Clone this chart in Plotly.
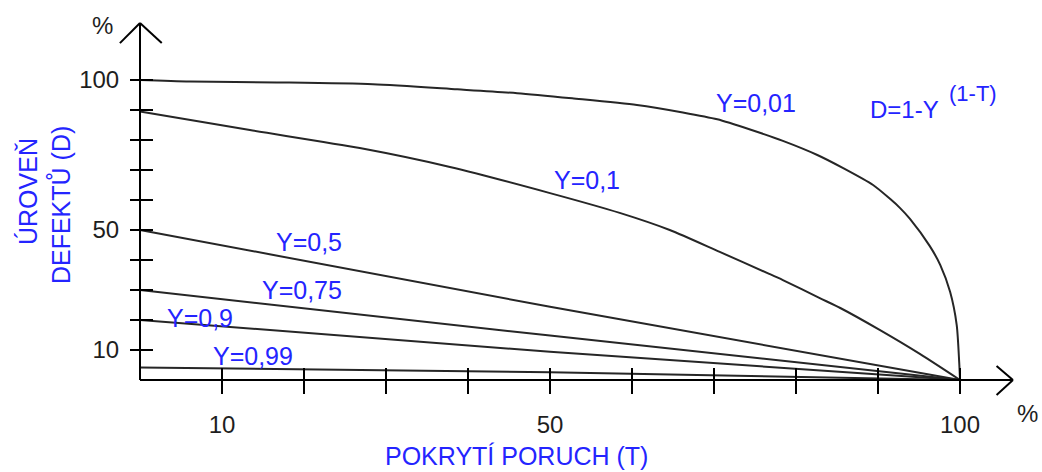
import plotly.graph_objects as go

# ---------------- data ----------------
# T = fault coverage [%], D = defect level [%]
T_Y001 = [0, 6.1, 16.7, 28.4, 38.7, 46.0, 52.7, 60.6, 66.2, 70.4, 74.4, 78.4,
          82.6, 85.7, 89.4, 91.5, 92.7, 93.9, 96.3, 97.6, 98.8, 99.6, 99.9, 100]
D_Y001 = [100, 99.5, 99.2, 98.6, 96.9, 95.6, 93.9, 91.7, 89.2, 86.9, 83.5, 79.7,
          75.0, 70.7, 65.0, 60.3, 57.3, 53.7, 44.7, 38.3, 29.3, 18.3, 6.0, 0]

T_Y01 = [0, 13.4, 26.8, 37.8, 50.0, 58.5, 64.6, 70.7, 76.8, 78.4, 82.9, 85.4, 90.2, 95.1, 100]
D_Y01 = [89.5, 83.3, 77.3, 71.0, 62.3, 55.7, 50.0, 42.7, 35.3, 33.3, 27.3, 24.0, 16.7, 8.7, 0]

T_LIN = [0, 50, 100]
D_Y05 = [50, 24.4, 0]
D_Y075 = [30, 14.8, 0]
D_Y09 = [20, 9.4, 0]
D_Y099 = [4.2, 2.6, 0]

SERIES_T = [T_Y001, T_Y01, T_LIN, T_LIN, T_LIN, T_LIN]
SERIES_D = [D_Y001, D_Y01, D_Y05, D_Y075, D_Y09, D_Y099]
SERIES_SHAPE = ["spline", "spline", "linear", "linear", "linear", "linear"]

LABELS = ["Y=0,01", "Y=0,1", "Y=0,5", "Y=0,75", "Y=0,9", "Y=0,99"]
LABEL_T = [75.1, 54.5, 20.6, 19.8, 7.3, 13.8]
LABEL_D = [92.3, 66.7, 46.0, 30.0, 20.7, 8.0]

TICK_VALS = [10, 20, 30, 40, 50, 60, 70, 80, 90, 100]
X_TICKTEXT = ["10", "", "", "", "50", "", "", "", "", "100"]
Y_TICKTEXT = ["10", "", "", "", "50", "", "", "", "", "100"]

X_TITLE = "POKRYTÍ PORUCH (T)"
Y_TITLE_1 = "ÚROVEŇ"
Y_TITLE_2 = "DEFEKTŮ (D)"
FORMULA_MAIN = "D=1-Y"
FORMULA_EXP = "(1-T)"

# ---------------- layout / scale ----------------
W, H = 1042, 472
ORIGIN_PX_X, ORIGIN_PX_Y = 140, 380
PX_PER_T, PX_PER_D = 8.2, 3.0
XMIN = -ORIGIN_PX_X / PX_PER_T
XMAX = (W - ORIGIN_PX_X) / PX_PER_T
YMAX = ORIGIN_PX_Y / PX_PER_D
YMIN = -(H - ORIGIN_PX_Y) / PX_PER_D

X_END = 106.46   # arrow tip of T axis
Y_END = 119.0    # arrow tip of D axis

LINE_COLOR = "#262626"
BLUE = "#2424ff"
TXT = "#1e1e1e"
FONT = "Liberation Sans, Arial, sans-serif"

fig = go.Figure()
for t, d, shp in zip(SERIES_T, SERIES_D, SERIES_SHAPE):
    fig.add_trace(go.Scatter(x=t, y=d, mode="lines",
                             line=dict(color=LINE_COLOR, width=2, shape=shp,
                                       smoothing=0.7 if shp == "spline" else None),
                             hoverinfo="skip", showlegend=False))
# dummy trace to create the overlay axes (crossing ticks)
fig.add_trace(go.Scatter(x=[None], y=[None], xaxis="x2", yaxis="y2",
                         showlegend=False, hoverinfo="skip"))

xpos = (0 - YMIN) / (YMAX - YMIN)
ypos = (0 - XMIN) / (XMAX - XMIN)

common = dict(showgrid=False, zeroline=False, showline=False,
              tickmode="array", tickvals=TICK_VALS, tickwidth=2,
              tickcolor="black", fixedrange=True)

fig.update_layout(
    width=W, height=H,
    margin=dict(l=0, r=0, t=0, b=0, pad=0),
    paper_bgcolor="white", plot_bgcolor="white",
    showlegend=False,
    xaxis=dict(range=[XMIN, XMAX], anchor="free", position=xpos,
               ticks="outside", ticklen=13, ticktext=X_TICKTEXT,
               tickfont=dict(family=FONT, size=24, color=TXT),
               ticklabelstandoff=10, **common),
    yaxis=dict(range=[YMIN, YMAX], anchor="free", position=ypos,
               ticks="outside", ticklen=10, ticktext=Y_TICKTEXT,
               tickfont=dict(family=FONT, size=24, color=TXT),
               ticklabelstandoff=6, **common),
    xaxis2=dict(range=[XMIN, XMAX], overlaying="x", anchor="free", position=xpos,
                ticks="inside", ticklen=12, showticklabels=False, **common),
    yaxis2=dict(range=[YMIN, YMAX], overlaying="y", anchor="free", position=ypos,
                ticks="inside", ticklen=12, showticklabels=False, **common),
)

# axes lines with open arrowheads
ax_line = dict(color="black", width=2)
shapes = [
    dict(type="line", x0=0, y0=0, x1=X_END, y1=0, line=ax_line),
    dict(type="line", x0=0, y0=0, x1=0, y1=Y_END, line=ax_line),
    dict(type="line", x0=X_END, y0=0, x1=X_END - 2.0, y1=4.7, line=ax_line),
    dict(type="line", x0=X_END, y0=0, x1=X_END - 2.0, y1=-5.0, line=ax_line),
    dict(type="line", x0=0, y0=Y_END, x1=-2.45, y1=Y_END - 6.7, line=ax_line),
    dict(type="line", x0=0, y0=Y_END, x1=2.65, y1=Y_END - 6.7, line=ax_line),
]
for s in shapes:
    s.update(xref="x", yref="y", layer="above")
fig.update_layout(shapes=shapes)

ann = []
for txt, t, d in zip(LABELS, LABEL_T, LABEL_D):
    ann.append(dict(x=t, y=d, text=txt, font=dict(family=FONT, size=25, color=BLUE)))
ann += [
    dict(x=93.2, y=90.3, text=FORMULA_MAIN, font=dict(family=FONT, size=24, color=BLUE)),
    dict(x=101.6, y=95.6, text=FORMULA_EXP, font=dict(family=FONT, size=22, color=BLUE)),
    dict(x=45.9, y=-25.3, text=X_TITLE, font=dict(family=FONT, size=25, color=BLUE)),
    dict(x=-13.66, y=63.0, text=Y_TITLE_1, textangle=-90, font=dict(family=FONT, size=25, color=BLUE)),
    dict(x=-9.76, y=58.3, text=Y_TITLE_2, textangle=-90, font=dict(family=FONT, size=25, color=BLUE)),
    dict(x=-4.63, y=118.3, text="%", font=dict(family=FONT, size=24, color=TXT)),
    dict(x=108.2, y=-11.3, text="%", font=dict(family=FONT, size=24, color=TXT)),
]
for a in ann:
    a.update(xref="x", yref="y", showarrow=False, xanchor="center", yanchor="middle")
fig.update_layout(annotations=ann)

fig.write_html("out.html", config={"displayModeBar": False},
               post_script="document.body.style.margin='0';document.body.style.overflow='hidden';")
